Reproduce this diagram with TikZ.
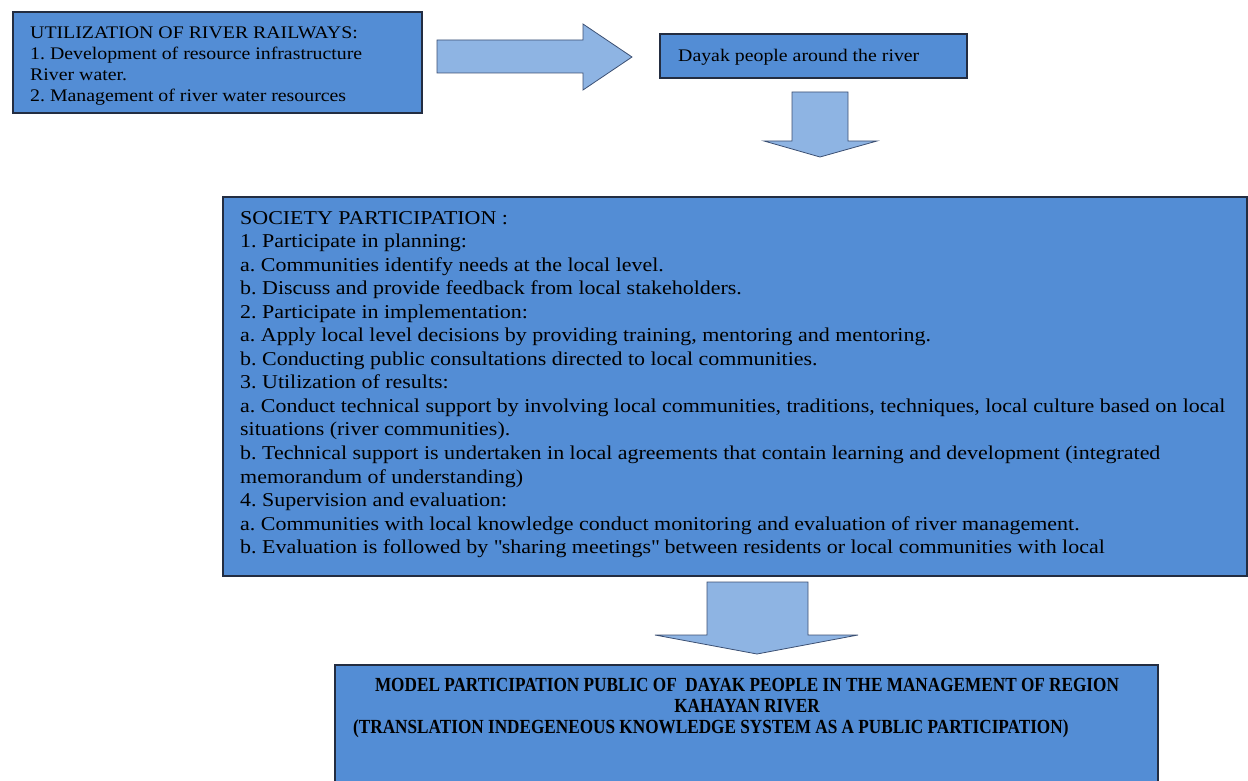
\documentclass[tikz,border=0pt]{standalone}
\usepackage{fontspec}
\setmainfont[FakeStretch=1.12]{Liberation Serif}
\newfontfamily\boldfont[FakeStretch=0.86]{Liberation Serif}
\frenchspacing
\definecolor{boxblue}{RGB}{83,141,213}
\definecolor{arrowblue}{RGB}{142,180,227}
\definecolor{boxline}{RGB}{35,45,65}
\definecolor{arrowline}{RGB}{60,80,115}
\begin{document}
\begin{tikzpicture}[x=1pt,y=-1pt,
  box/.style={draw=boxline,fill=boxblue,line width=1.1pt},
  blockarrow/.style={draw=arrowline,fill=arrowblue,line width=0.8pt,line join=miter},
  txt/.style={anchor=base west,inner sep=0pt,text=black},
  smalltxt/.style={txt,font=\fontsize{17.7}{21}\selectfont},
  midtxt/.style={txt,font=\fontsize{19.6}{23.5}\selectfont},
  titletxt/.style={inner sep=0pt,text=black,font=\boldfont\bfseries\fontsize{20}{21}\selectfont}]
\useasboundingbox (0,0) rectangle (1248,781);
% boxes
\draw[box] (13,12) rectangle (422,113);
\draw[box] (660,34) rectangle (967,78);
\draw[box] (223,197) rectangle (1247,576);
\draw[box] (335,665) rectangle (1158,790);
% block arrows
\draw[blockarrow] (437,40) -- (583,40) -- (583,24) -- (632,57) -- (583,90) -- (583,73) -- (437,73) -- cycle;
\draw[blockarrow] (792,92) -- (848,92) -- (848,141) -- (877,141) -- (820,157) -- (764,141) -- (792,141) -- cycle;
\draw[blockarrow] (707,582) -- (808,582) -- (808,635) -- (858,635) -- (757,654) -- (655,635) -- (707,635) -- cycle;
% box 1 text
\node[smalltxt] (a1) at (30,39) {UTILIZATION OF RIVER RAILWAYS:};
\node[smalltxt] (a2) at (30,60) {1. Development of resource infrastructure};
\node[smalltxt] (a3) at (30,81) {River water.};
\node[smalltxt] (a4) at (30,102) {2. Management of river water resources};
% box 2 text
\node[smalltxt] (b1) at (678,62) {Dayak people around the river};
% box 3 text
\foreach \i/\t in {0/{SOCIETY PARTICIPATION :},
  1/{1. Participate in planning:},
  2/{a. Communities identify needs at the local level.},
  3/{b. Discuss and provide feedback from local stakeholders.},
  4/{2. Participate in implementation:},
  5/{a. Apply local level decisions by providing training, mentoring and mentoring.},
  6/{b. Conducting public consultations directed to local communities.},
  7/{3. Utilization of results:},
  8/{a. Conduct technical support by involving local communities, traditions, techniques, local culture based on local},
  9/{situations (river communities).},
  10/{b. Technical support is undertaken in local agreements that contain learning and development (integrated},
  11/{memorandum of understanding)},
  12/{4. Supervision and evaluation:},
  13/{a. Communities with local knowledge conduct monitoring and evaluation of river management.},
  14/{b. Evaluation is followed by \textquotedbl sharing meetings\textquotedbl\ between residents or local communities with local}}
  \node[midtxt] (c\i) at (240,{224+23.55*\i}) {\t};
% box 4 text
\node[titletxt,anchor=base] (d1) at (747,691) {MODEL PARTICIPATION PUBLIC OF~ DAYAK PEOPLE IN THE MANAGEMENT OF REGION};
\node[titletxt,anchor=base] (d2) at (747,712) {KAHAYAN RIVER};
\node[titletxt,anchor=base west] (d3) at (353,733) {(TRANSLATION INDEGENEOUS KNOWLEDGE SYSTEM AS A PUBLIC PARTICIPATION)};
\end{tikzpicture}
\end{document}
